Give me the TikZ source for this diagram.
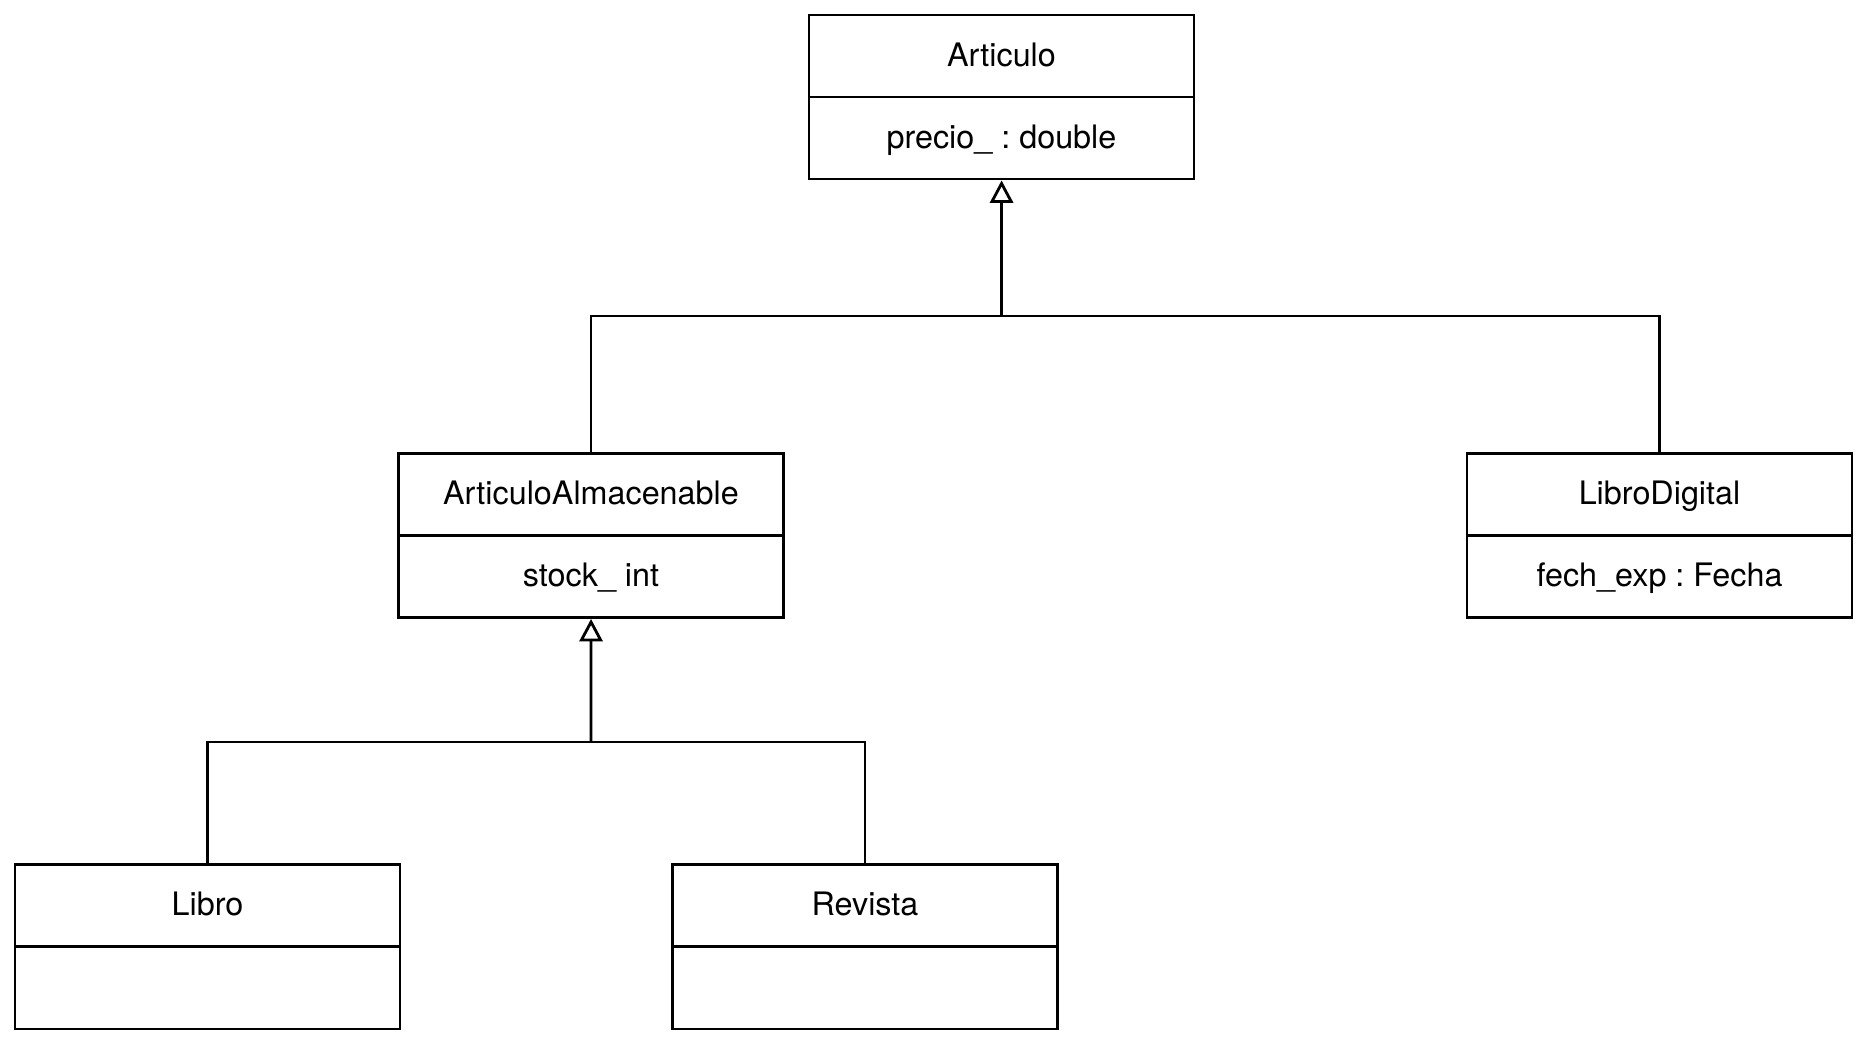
\documentclass[tikz,border=0pt]{standalone}
\usepackage{fontspec}
\setmainfont{TeX Gyre Heros}
\usetikzlibrary{arrows.meta}
\frenchspacing

\begin{document}
\begin{tikzpicture}[scale=0.1]
		\tikzstyle{every node}+=[inner sep=0pt, font=\fontsize{9.2}{11}\selectfont, text height=7.2pt, text depth=1.3pt]
		\tikzstyle{cls}=[draw=black, line width=0.8pt, minimum width=3.85cm, minimum height=0.82cm]
		\tikzstyle{gen}=[black, line width=0.8pt, -{Triangle[open, length=6.4pt, width=6.6pt]}]
		\useasboundingbox (0,0) rectangle (186.4,-104.2);
		% Articulo
		\node [cls] (art) at (100.15,-5.6) {Articulo};
		\node [cls] (art-a) at (100.15,-13.8) {precio\_ : double};
		% ArticuloAlmacenable
		\node [cls] (alm) at (59.1,-49.45) {ArticuloAlmacenable};
		\node [cls] (alm-a) at (59.1,-57.65) {stock\_ int};
		% LibroDigital
		\node [cls] (dig) at (165.95,-49.45) {LibroDigital};
		\node [cls] (dig-a) at (165.95,-57.65) {fech\_exp : Fecha};
		% Libro
		\node [cls] (lib) at (20.75,-90.55) {Libro};
		\node [cls] (lib-a) at (20.75,-98.8) {};
		% Revista
		\node [cls] (rev) at (86.5,-90.55) {Revista};
		\node [cls] (rev-a) at (86.5,-98.8) {};
		% herencia
		\coordinate (j1) at (100.15,-31.6);
		\coordinate (j2) at (59.1,-74.2);
		\draw [gen] (j1) -- (art-a);
		\draw [black, line width=0.8pt] (alm.north) |- (j1) -| (dig.north);
		\draw [gen] (j2) -- (alm-a);
		\draw [black, line width=0.8pt] (lib.north) |- (j2) -| (rev.north);
	\end{tikzpicture}
\end{document}
